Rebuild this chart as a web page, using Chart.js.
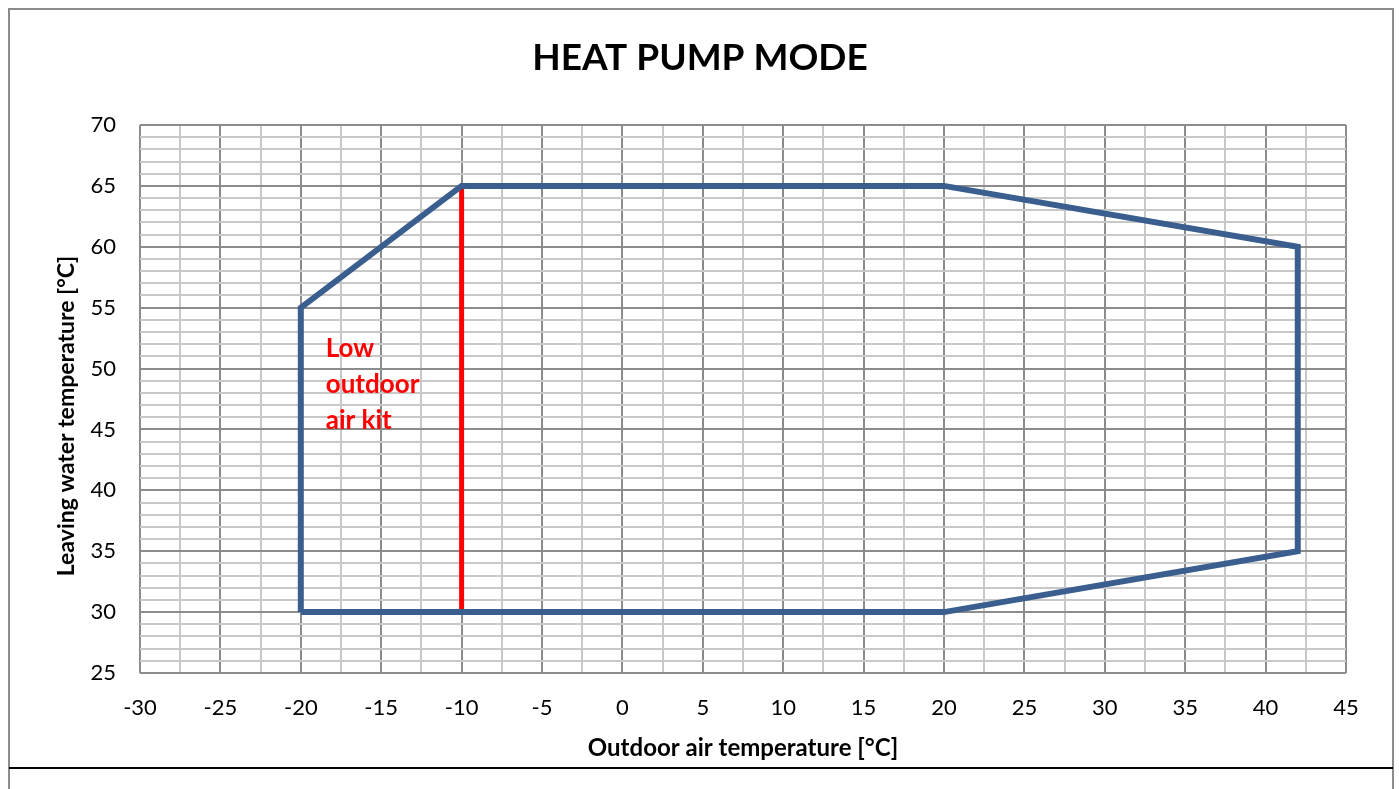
<!DOCTYPE html>
<html>
<head>
<meta charset="utf-8">
<script src="https://cdn.jsdelivr.net/npm/chart.js@4.4.0/dist/chart.umd.min.js"></script>
<style>
  html, body { margin: 0; padding: 0; background: #fff; }
  #wrap { width: 1399px; height: 789px; position: relative; }
</style>
</head>
<body>
<div id="wrap"><canvas id="chart" width="1399" height="789"></canvas></div>
<script>
// operating envelope (outdoor air °C, leaving water °C)
const envelopeX = [-20, -20, -10, 20, 42, 42, 20, -20];
const envelopeY = [30, 55, 65, 65, 60, 35, 30, 30];
// low outdoor air kit limit
const kitX = [-10, -10];
const kitY = [30, 65];

const xMin = -30, xMax = 45, xStep = 2.5;
const yMin = 25, yMax = 70, yStep = 1;

const titleText = 'HEAT PUMP MODE';
const xTitle = 'Outdoor air temperature [°C]';
const yTitle = 'Leaving water temperature [°C]';
const kitLabel = ['Low', 'outdoor', 'air kit'];

const FONT = 'Lato, "Open Sans", sans-serif';

const pts = (xs, ys) => xs.map((x, i) => ({ x: x, y: ys[i] }));

const isMajor = v => Math.abs(v % 5) < 1e-6;

const framePlugin = {
  id: 'frame',
  afterDraw(chart) {
    const ctx = chart.ctx;
    ctx.save();
    // outer frame
    ctx.strokeStyle = '#8c8c8c';
    ctx.lineWidth = 2;
    ctx.beginPath();
    ctx.moveTo(9, 789);
    ctx.lineTo(9, 9);
    ctx.lineTo(1393, 9);
    ctx.lineTo(1393, 789);
    ctx.stroke();
    ctx.strokeStyle = '#000';
    ctx.lineWidth = 2;
    ctx.beginPath();
    ctx.moveTo(9, 768);
    ctx.lineTo(1393, 768);
    ctx.stroke();

    // titles
    ctx.fillStyle = '#000';
    ctx.font = 'bold 37px ' + FONT;
    ctx.textAlign = 'center';
    ctx.textBaseline = 'middle';
    ctx.fillText(titleText, 700, 58);

    ctx.font = 'bold 24px ' + FONT;
    ctx.fillText(xTitle, 743, 748);
    ctx.save();
    ctx.translate(67, 416);
    ctx.rotate(-Math.PI / 2);
    ctx.font = 'bold 23px ' + FONT;
    ctx.fillText(yTitle, 0, 0);
    ctx.restore();

    // annotation
    const xs = chart.scales.x, ys = chart.scales.y;
    ctx.fillStyle = '#ff0000';
    ctx.font = 'bold 26px ' + FONT;
    ctx.textAlign = 'left';
    const lx = xs.getPixelForValue(-18.45);
    kitLabel.forEach((t, i) => {
      ctx.fillText(t, lx, ys.getPixelForValue(51.6) + i * 36);
    });
    ctx.restore();
  }
};

new Chart(document.getElementById('chart'), {
  type: 'scatter',
  data: {
    datasets: [
      {
        data: pts(envelopeX, envelopeY),
        showLine: true,
        borderColor: '#3a5f8f',
        borderWidth: 6,
        pointRadius: 0,
        borderJoinStyle: 'miter',
        tension: 0
      },
      {
        data: pts(kitX, kitY),
        showLine: true,
        borderColor: '#ff0000',
        borderWidth: 5,
        pointRadius: 0
      }
    ]
  },
  options: {
    responsive: false,
    animation: false,
    layout: { padding: { top: 125, right: 53, left: 52, bottom: 30 } },
    plugins: {
      legend: { display: false },
      tooltip: { enabled: false }
    },
    scales: {
      x: {
        type: 'linear',
        min: xMin,
        max: xMax,
        afterFit: s => { s.height = 86; },
        border: { display: false },
        grid: {
          drawTicks: false,
          lineWidth: 2,
          color: c => isMajor(c.tick.value) ? '#8c8c8c' : '#c8c8c8'
        },
        ticks: {
          stepSize: xStep,
          autoSkip: false,
          maxRotation: 0,
          padding: 22,
          color: '#000',
          font: { family: FONT, size: 22 },
          callback: v => isMajor(v) ? String(v) : ''
        }
      },
      y: {
        type: 'linear',
        min: yMin,
        max: yMax,
        afterFit: s => { s.width = 88; },
        border: { display: false },
        grid: {
          drawTicks: false,
          lineWidth: 2,
          color: c => isMajor(c.tick.value) ? '#8c8c8c' : '#c8c8c8'
        },
        ticks: {
          stepSize: yStep,
          autoSkip: false,
          maxTicksLimit: 100,
          padding: 24,
          color: '#000',
          font: { family: FONT, size: 22 },
          callback: v => isMajor(v) ? String(v) : ''
        }
      }
    }
  },
  plugins: [framePlugin]
});
</script>
</body>
</html>
